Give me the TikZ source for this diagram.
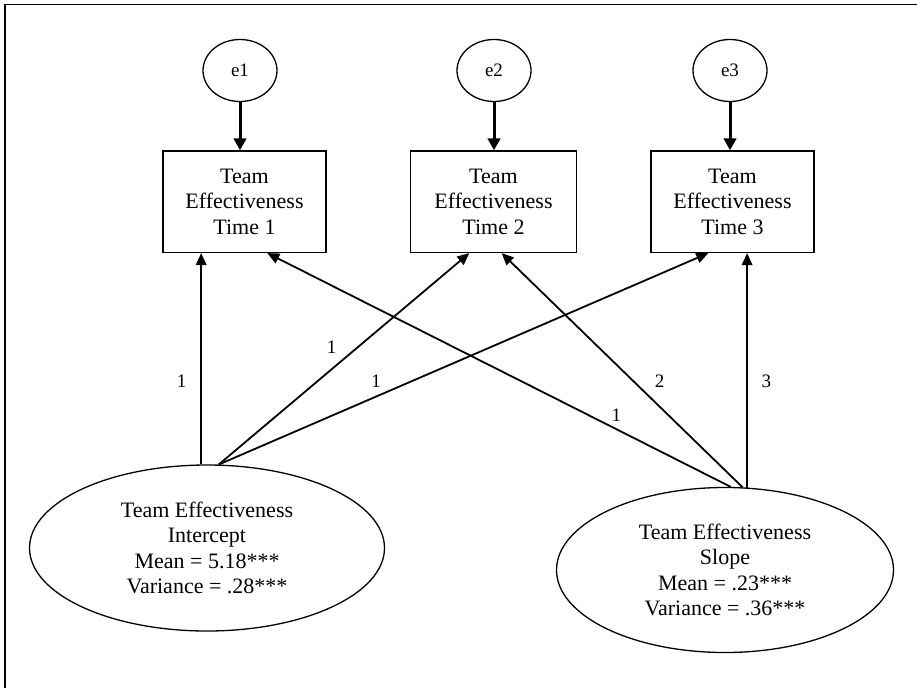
\documentclass[tikz,border=0pt]{standalone}
\usepackage{fontspec}
\setmainfont{Liberation Serif}
\usetikzlibrary{shapes.geometric,arrows.meta,calc}
\begin{document}
\begin{tikzpicture}[x=1pt,y=-1pt,
  every node/.style={font=\fontsize{22}{25.3}\selectfont, inner sep=0pt},
  errc/.style={ellipse,draw,line width=1.3pt,minimum width=74pt,minimum height=62pt,font=\fontsize{19}{22}\selectfont},
  obs/.style={rectangle,draw,line width=1.3pt,minimum height=101.5pt,align=center},
  lat/.style={ellipse,draw,line width=1.3pt,align=center},
  patharr/.style={line width=1.8pt,-{Triangle[length=12pt,width=10.5pt]}},
  errarr/.style={line width=3pt,-{Triangle[length=12pt,width=12.5pt]}},
  lbl/.style={font=\fontsize{19}{22}\selectfont}
]
\useasboundingbox (0,0) rectangle (917,688);
\draw[line width=1.4pt] (5,688) -- (5,4.7) -- (917,4.7);

% error terms
\node[errc] (e1) at (240,70.5) {e1};
\node[errc] (e2) at (494,70.5) {e2};
\node[errc] (e3) at (730,70.5) {e3};

% observed
\node[obs,minimum width=163pt] (b1) at (244.5,201.7) {Team\\Effectiveness\\Time 1};
\node[obs,minimum width=166pt] (b2) at (493.5,201.7) {Team\\Effectiveness\\Time 2};
\node[obs,minimum width=163pt] (b3) at (732.5,201.7) {Team\\Effectiveness\\Time 3};

% latent
\node[lat,minimum width=355pt,minimum height=166pt] (int) at (207,548)
  {Team Effectiveness\\Intercept\\Mean = 5.18***\\Variance = .28***};
\node[lat,minimum width=337pt,minimum height=165pt] (slo) at (725,570)
  {Team Effectiveness\\Slope\\Mean = .23***\\Variance = .36***};

% error arrows
\draw[errarr] (e1.south) -- (e1.south |- b1.north);
\draw[errarr] (e2.south) -- (e2.south |- b2.north);
\draw[errarr] (e3.south) -- (e3.south |- b3.north);

% intercept paths
\draw[patharr] (int.94) -- (int.94 |- b1.south);
\draw[patharr] (int.82.2) -- ([xshift=-24.2pt]b2.south);
\draw[patharr] (int.82.2) -- ([xshift=-24.2pt]b3.south);

% slope paths
\draw[patharr] (slo.86.5) -- ([xshift=22.8pt]b1.south);
\draw[patharr] (slo.78.5) -- ([xshift=8.2pt]b2.south);
\draw[patharr] (slo.75) -- (slo.75 |- b3.south);

% labels
\node[lbl] (l1) at (181.7,381.7) {1};
\node[lbl] (l2) at (331.7,347.3) {1};
\node[lbl] (l3) at (376,381.7) {1};
\node[lbl] (l4) at (616.3,415) {1};
\node[lbl] (l5) at (659.7,381.7) {2};
\node[lbl] (l6) at (766.3,381.7) {3};
\end{tikzpicture}
\end{document}
